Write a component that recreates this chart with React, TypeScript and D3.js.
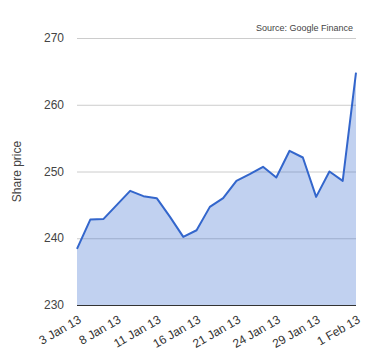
import React, { useEffect, useRef } from "react";
import * as d3 from "d3";

const dates = [
  "3 Jan 13", "4 Jan 13", "7 Jan 13", "8 Jan 13", "9 Jan 13", "10 Jan 13", "11 Jan 13",
  "14 Jan 13", "15 Jan 13", "16 Jan 13", "17 Jan 13", "18 Jan 13", "21 Jan 13", "22 Jan 13",
  "23 Jan 13", "24 Jan 13", "25 Jan 13", "28 Jan 13", "29 Jan 13", "30 Jan 13", "31 Jan 13",
  "1 Feb 13",
];
const prices = [
  238.4, 242.8, 242.9, 245.0, 247.1, 246.3, 246.0, 243.2, 240.2, 241.2, 244.7,
  246.0, 248.6, 249.6, 250.7, 249.1, 253.1, 252.1, 246.2, 250.0, 248.6, 264.8,
];
const yTicks = [230, 240, 250, 260, 270];
const xLabelIdx = [0, 3, 6, 9, 12, 15, 18, 21];

export default function App() {
  const ref = useRef<SVGSVGElement>(null);

  useEffect(() => {
    const svg = d3.select(ref.current);
    svg.selectAll("*").remove();

    const left = 77, right = 356, top = 38, bottom = 305;
    const x = d3.scaleLinear().domain([0, dates.length - 1]).range([left, right]);
    const y = d3.scaleLinear().domain([230, 270]).range([bottom, top]);
    const font = "Arial, 'Liberation Sans', sans-serif";

    // grid
    svg.selectAll(".grid").data(yTicks.slice(1)).join("line")
      .attr("x1", left).attr("x2", right)
      .attr("y1", d => y(d) + 0.5).attr("y2", d => y(d) + 0.5)
      .attr("stroke", "#cccccc").attr("stroke-width", 1);

    svg.selectAll(".ylab").data(yTicks).join("text")
      .attr("x", 64).attr("y", d => y(d) + 4)
      .attr("text-anchor", "end")
      .attr("font-family", font).attr("font-size", 12).attr("fill", "#444")
      .text(d => d);

    const area = d3.area<number>()
      .x((_, i) => x(i)).y0(y(230)).y1(d => y(d));
    svg.append("path").datum(prices).attr("d", area)
      .attr("fill", "#3366cc").attr("fill-opacity", 0.3);

    const line = d3.line<number>().x((_, i) => x(i)).y(d => y(d));
    svg.append("path").datum(prices).attr("d", line)
      .attr("fill", "none").attr("stroke", "#3366cc").attr("stroke-width", 2)
      .attr("stroke-linejoin", "round");

    // baseline
    svg.append("line").attr("x1", left).attr("x2", right)
      .attr("y1", bottom + 0.5).attr("y2", bottom + 0.5)
      .attr("stroke", "#333").attr("stroke-width", 1);

    svg.selectAll(".xlab").data(xLabelIdx).join("text")
      .attr("transform", d => `translate(${x(d) + 5},${bottom + 17}) rotate(-30)`)
      .attr("text-anchor", "end")
      .attr("font-family", font).attr("font-size", 12).attr("fill", "#333")
      .text(d => dates[d]);

    svg.append("text")
      .attr("transform", `translate(21,${(top + bottom) / 2}) rotate(-90)`)
      .attr("text-anchor", "middle")
      .attr("font-family", font).attr("font-size", 12).attr("fill", "#444")
      .text("Share price");

    svg.append("text")
      .attr("x", 353).attr("y", 31)
      .attr("text-anchor", "end")
      .attr("font-family", font).attr("font-size", 9).attr("fill", "#444")
      .text("Source: Google Finance");
  }, []);

  return (
    <svg ref={ref} width={380} height={360}
      style={{ position: "absolute", left: 0, top: 0, background: "#fff" }} />
  );
}
